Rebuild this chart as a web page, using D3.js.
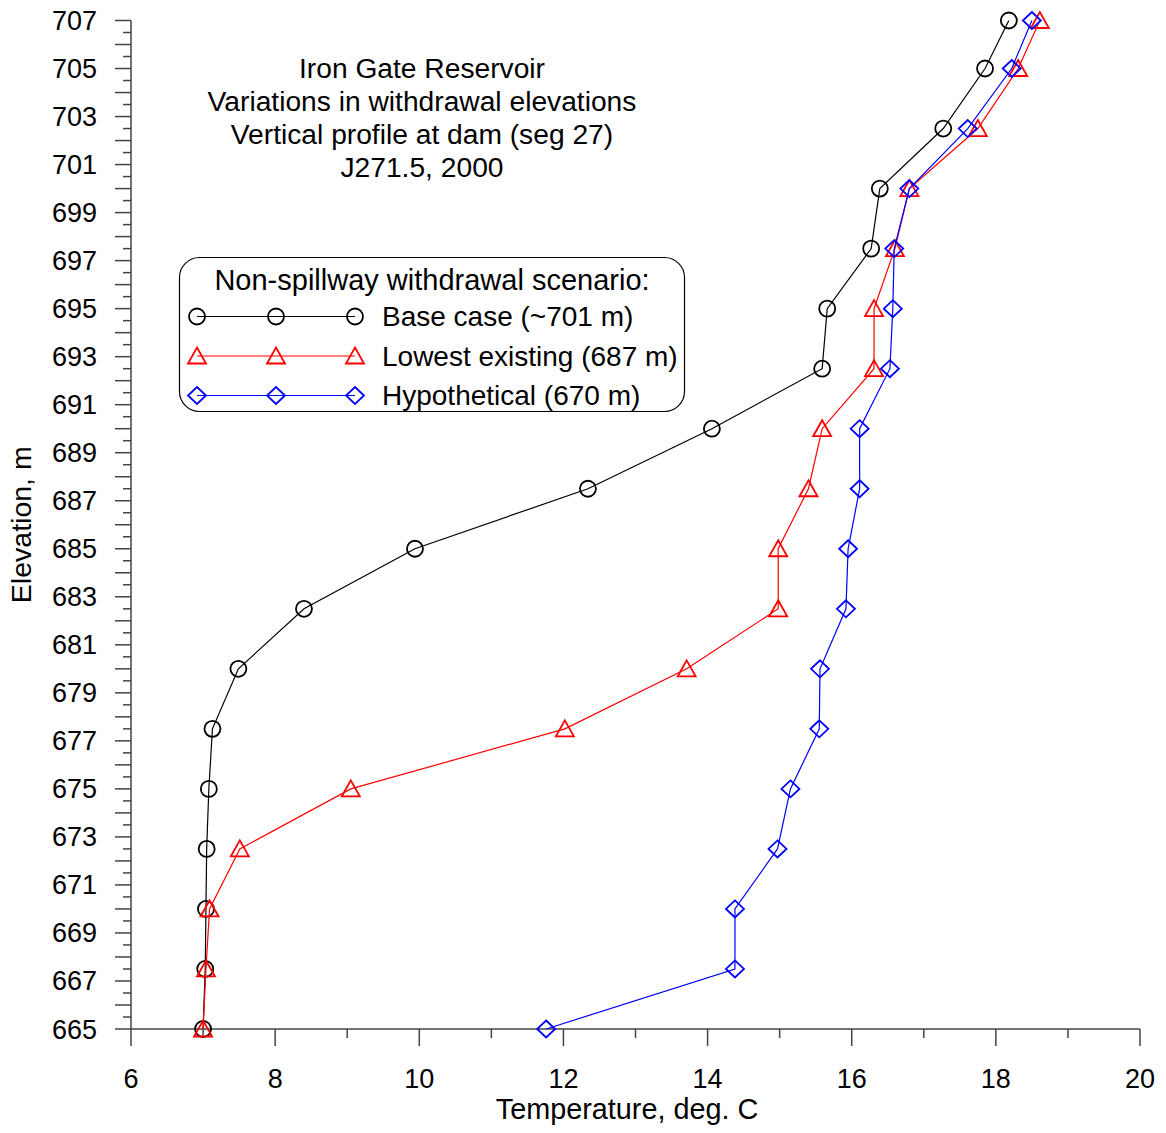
<!DOCTYPE html>
<html>
<head>
<meta charset="utf-8">
<script src="https://cdnjs.cloudflare.com/ajax/libs/d3/7.8.5/d3.min.js"></script>
<style>
  body { margin: 0; background: #fff; }
  text { font-family: "Liberation Sans", Arial, sans-serif; fill: #000; }
</style>
</head>
<body>
<div id="chart"></div>
<script>
// elevation of each profile point (m)
var elevations = [665, 667.5, 670, 672.5, 675, 677.5, 680, 682.5, 685, 687.5, 690, 692.5, 695, 697.5, 700, 702.5, 705, 707];
// temperatures (deg C) for each scenario
var baseCase = [7.00, 7.03, 7.04, 7.05, 7.08, 7.13, 7.49, 8.40, 9.94, 12.34, 14.06, 15.59, 15.66, 16.27, 16.39, 17.27, 17.85, 18.18];
var lowestExisting = [7.00, 7.04, 7.09, 7.51, 9.05, 12.02, 13.71, 14.98, 14.98, 15.40, 15.59, 16.31, 16.31, 16.60, 16.80, 17.75, 18.31, 18.61];
var hypothetical = [11.76, 14.38, 14.38, 14.97, 15.15, 15.55, 15.56, 15.92, 15.95, 16.11, 16.11, 16.53, 16.57, 16.59, 16.80, 17.61, 18.22, 18.50];

var seriesNames = ["Base case (~701 m)", "Lowest existing (687 m)", "Hypothetical (670 m)"];
var seriesColors = ["#000000", "#ff0000", "#0000ff"];
var seriesMarkers = ["circle", "triangle", "diamond"];

var titleLines = ["Iron Gate Reservoir", "Variations in withdrawal elevations", "Vertical profile at dam (seg 27)", "J271.5, 2000"];
var legendTitle = "Non-spillway withdrawal scenario:";

var xTicks = [6, 8, 10, 12, 14, 16, 18, 20];
var yTicks = d3.range(665, 708, 2);

var width = 1166, height = 1133;
var margin = {top: 20.5, right: 26, bottom: 104, left: 131};
var fs = 27; // tick labels

var svg = d3.select("#chart").append("svg")
  .attr("width", width)
  .attr("height", height);

var x = d3.scaleLinear().domain([6, 20]).range([margin.left, width - margin.right]);
var y = d3.scaleLinear().domain([665, 707]).range([height - margin.bottom, margin.top]);

var axisColor = "#444";

// minor / major ticks on x
var xMinor = d3.range(7, 20, 2);
var xAxisG = svg.append("g").attr("transform", "translate(0," + y(665) + ")");
xAxisG.append("line")
  .attr("x1", x(6)).attr("x2", x(20))
  .attr("stroke", axisColor).attr("stroke-width", 1.5);
xAxisG.selectAll(".xmaj").data(xTicks).enter().append("line")
  .attr("x1", d => x(d)).attr("x2", d => x(d))
  .attr("y1", 0).attr("y2", 17)
  .attr("stroke", axisColor).attr("stroke-width", 1.5);
xAxisG.selectAll(".xmin").data(xMinor).enter().append("line")
  .attr("x1", d => x(d)).attr("x2", d => x(d))
  .attr("y1", 0).attr("y2", 9)
  .attr("stroke", axisColor).attr("stroke-width", 1.5);
xAxisG.selectAll(".xlab").data(xTicks).enter().append("text")
  .attr("x", d => x(d)).attr("y", 59)
  .attr("text-anchor", "middle")
  .style("font-size", fs + "px")
  .text(d => d);

// y axis: long ticks at integers, short at halves
var yMajor = d3.range(665, 708, 1);
var yMinor = d3.range(665.5, 707, 1);
var yAxisG = svg.append("g").attr("transform", "translate(" + x(6) + ",0)");
yAxisG.append("line")
  .attr("y1", y(665)).attr("y2", y(707))
  .attr("stroke", axisColor).attr("stroke-width", 1.5);
yAxisG.selectAll(".ymaj").data(yMajor).enter().append("line")
  .attr("x1", -16).attr("x2", 0)
  .attr("y1", d => y(d)).attr("y2", d => y(d))
  .attr("stroke", axisColor).attr("stroke-width", 1.5);
yAxisG.selectAll(".ymin").data(yMinor).enter().append("line")
  .attr("x1", -8).attr("x2", 0)
  .attr("y1", d => y(d)).attr("y2", d => y(d))
  .attr("stroke", axisColor).attr("stroke-width", 1.5);
yAxisG.selectAll(".ylab").data(yTicks).enter().append("text")
  .attr("x", -34).attr("y", d => y(d) + 9.5)
  .attr("text-anchor", "end")
  .style("font-size", fs + "px")
  .text(d => d);

// axis titles
svg.append("text")
  .attr("x", 627).attr("y", 1119)
  .attr("text-anchor", "middle")
  .style("font-size", "28.8px")
  .text("Temperature, deg. C");
svg.append("text")
  .attr("transform", "translate(31," + ((y(665) + y(707)) / 2) + ") rotate(-90)")
  .attr("text-anchor", "middle")
  .style("font-size", "28.5px")
  .text("Elevation, m");

// marker shapes
function markerPath(type) {
  if (type == "triangle") return "M0,-8.5L9,7.5L-9,7.5Z";
  if (type == "diamond") return "M0,-8.5L9,0L0,8.5L-9,0Z";
  return d3.symbol().type(d3.symbolCircle).size(Math.PI * 64)();
}

var allSeries = [baseCase, lowestExisting, hypothetical];
var line = d3.line().x(d => x(d.t)).y(d => y(d.e));

allSeries.forEach(function(vals, i) {
  var pts = vals.map((t, j) => ({t: t, e: elevations[j]}));
  svg.append("path")
    .datum(pts)
    .attr("d", line)
    .attr("fill", "none")
    .attr("stroke", seriesColors[i])
    .attr("stroke-width", 1.2);
  svg.append("g").selectAll("path").data(pts).enter().append("path")
    .attr("transform", d => "translate(" + x(d.t) + "," + y(d.e) + ")")
    .attr("d", markerPath(seriesMarkers[i]))
    .attr("fill", "none")
    .attr("stroke", seriesColors[i])
    .attr("stroke-width", 1.8);
});

// title block
svg.append("g").selectAll("text").data(titleLines).enter().append("text")
  .attr("x", 422).attr("y", (d, i) => 78 + i * 33)
  .attr("text-anchor", "middle")
  .style("font-size", "28.2px")
  .text(d => d);

// legend
var lg = svg.append("g");
lg.append("rect")
  .attr("x", 179.5).attr("y", 257.5).attr("width", 505).attr("height", 154)
  .attr("rx", 20).attr("ry", 20)
  .attr("fill", "#fff").attr("stroke", "#000").attr("stroke-width", 1.2);
lg.append("text")
  .attr("x", 432).attr("y", 290)
  .attr("text-anchor", "middle")
  .style("font-size", "29px")
  .text(legendTitle);
var legendMarkX = [197, 276, 355];
seriesNames.forEach(function(name, i) {
  var ly = 316.5 + i * 39.5;
  lg.append("line")
    .attr("x1", legendMarkX[0]).attr("x2", legendMarkX[2])
    .attr("y1", ly).attr("y2", ly)
    .attr("stroke", seriesColors[i]).attr("stroke-width", 1.2);
  lg.selectAll(".m" + i).data(legendMarkX).enter().append("path")
    .attr("transform", d => "translate(" + d + "," + ly + ")")
    .attr("d", markerPath(seriesMarkers[i]))
    .attr("fill", "none")
    .attr("stroke", seriesColors[i])
    .attr("stroke-width", 1.8);
  lg.append("text")
    .attr("x", 382).attr("y", ly + 9.5)
    .style("font-size", "28px")
    .text(name);
});
</script>
</body>
</html>
